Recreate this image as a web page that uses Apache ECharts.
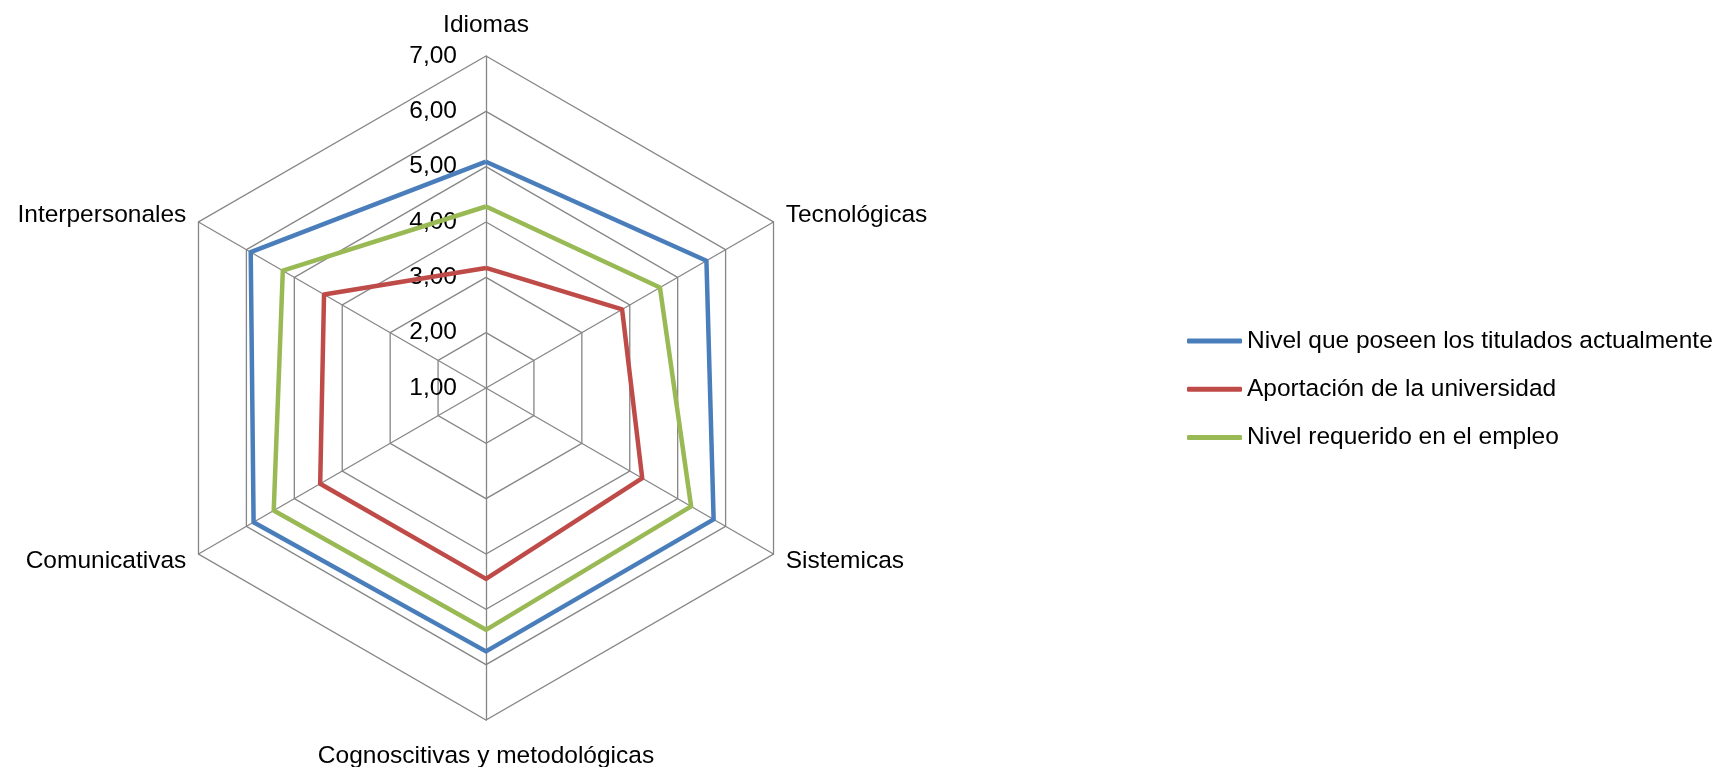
<!DOCTYPE html>
<html>
<head>
<meta charset="utf-8">
<script src="https://cdn.jsdelivr.net/npm/echarts@6/dist/echarts.min.js"></script>
<style>
html,body{margin:0;padding:0;background:#fff;}
#c{width:1722px;height:767px;}
</style>
</head>
<body>
<div id="c"></div>
<script>
// Categories in clockwise order starting from the top
const categories = ['Idiomas', 'Tecnológicas', 'Sistemicas', 'Cognoscitivas y metodológicas', 'Comunicativas', 'Interpersonales'];
const seriesNames = ['Nivel que poseen los titulados actualmente', 'Aportación de la universidad', 'Nivel requerido en el empleo'];
const nivelTitulados = [5.09, 5.60, 5.75, 5.76, 5.85, 5.91];
const aportacionUniversidad = [3.17, 3.84, 4.26, 4.45, 4.46, 4.38];
const nivelRequerido = [4.28, 4.63, 5.28, 5.37, 5.43, 5.24];
const axisMin = 1, axisMax = 7;

const colors = ['#4A7EBB', '#BE4B48', '#98B954'];
const FONT = 'Liberation Sans';
const FS = 24.5;

// ECharts places radar indicators counterclockwise; reorder to keep the clockwise look
const order = [0, 5, 4, 3, 2, 1];
const reorder = arr => order.map(i => arr[i]);

const indicator = reorder(categories).map((name, i) => ({
  name: name, min: axisMin, max: axisMax,
  axisLabel: { show: i === 0 }
}));

const chart = echarts.init(document.getElementById('c'), null, { renderer: 'canvas' });
chart.setOption({
  animation: false,
  backgroundColor: '#ffffff',
  textStyle: { fontFamily: FONT },
  legend: {
    orient: 'vertical',
    left: 1187,
    top: 326,
    padding: 0,
    itemWidth: 55,
    itemHeight: 5,
    itemGap: 18.3,
    icon: 'roundRect',
    textStyle: { fontFamily: FONT, fontSize: FS, color: '#000', lineHeight: 30 },
    data: seriesNames
  },
  radar: {
    center: [486, 388],
    radius: 332,
    startAngle: 90,
    splitNumber: 6,
    shape: 'polygon',
    nameGap: 14,
    axisName: { color: '#000', fontFamily: FONT, fontSize: FS, padding: [10, 0, 4, 0] },
    axisLine: { lineStyle: { color: '#868686', width: 1.3 } },
    splitLine: { lineStyle: { color: '#868686', width: 1.3 } },
    splitArea: { show: false },
    axisTick: { show: false },
    axisLabel: {
      show: false,
      margin: 29,
      color: '#000', fontFamily: FONT, fontSize: FS,
      formatter: v => v.toFixed(2).replace('.', ','),
      showMinLabel: true, showMaxLabel: true
    },
    indicator: indicator
  },
  series: [{
    type: 'radar',
    symbol: 'none',
    data: [
      { name: seriesNames[0], value: reorder(nivelTitulados), lineStyle: { color: colors[0], width: 4.5 }, itemStyle: { color: colors[0] } },
      { name: seriesNames[1], value: reorder(aportacionUniversidad), lineStyle: { color: colors[1], width: 4.5 }, itemStyle: { color: colors[1] } },
      { name: seriesNames[2], value: reorder(nivelRequerido), lineStyle: { color: colors[2], width: 4.5 }, itemStyle: { color: colors[2] } }
    ]
  }]
});
</script>
</body>
</html>
